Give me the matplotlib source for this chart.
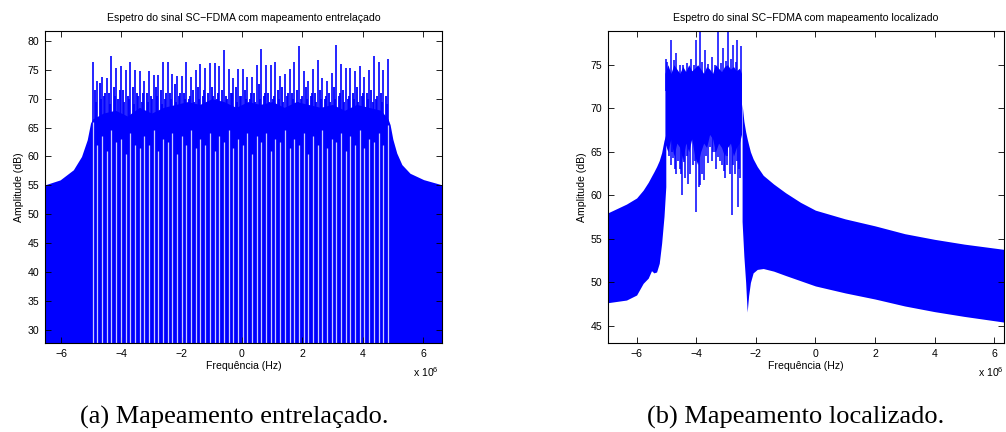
import matplotlib
matplotlib.use('Agg')
import matplotlib.pyplot as plt
import numpy as np

plt.rcParams['font.family'] = ['Liberation Sans', 'DejaVu Sans']
BLUE = '#0000ff'

# ---------------- (a) interleaved mapping (frequency in units of 1e6 Hz) ----------------
sub_f = [-4.948, -4.793, -4.638, -4.482, -4.327, -4.172, -4.016, -3.861,
         -3.706, -3.550, -3.395, -3.240, -3.084, -2.929, -2.774, -2.619,
         -2.463, -2.308, -2.153, -1.997, -1.842, -1.687, -1.531, -1.376,
         -1.221, -1.065, -0.910, -0.755, -0.600, -0.444, -0.289, -0.134,
         0.022, 0.177, 0.332, 0.488, 0.643, 0.798, 0.953, 1.109,
         1.264, 1.419, 1.575, 1.730, 1.885, 2.041, 2.196, 2.351,
         2.507, 2.662, 2.817, 2.972, 3.128, 3.283, 3.438, 3.594,
         3.749, 3.904, 4.060, 4.215, 4.370, 4.526, 4.681, 4.836]
spike_db = [76.3, 73.1, 73.8, 73.5, 77.3, 75.3, 75.7, 74.9,
            76.4, 75.0, 74.7, 73.1, 74.8, 74.1, 74.1, 76.4,
            76.4, 74.3, 73.9, 74.0, 76.4, 73.8, 74.9, 76.0,
            75.3, 76.1, 76.1, 75.6, 78.4, 75.2, 73.5, 75.2,
            75.2, 73.7, 73.7, 75.8, 78.6, 75.8, 75.8, 76.3,
            74.0, 74.3, 75.1, 76.3, 79.1, 74.8, 73.1, 75.2,
            76.6, 73.6, 73.0, 74.4, 79.3, 76.0, 75.3, 75.3,
            74.8, 75.7, 73.7, 74.9, 77.3, 76.4, 75.0, 76.9]
gap_db = [66.0, 62.0, 63.5, 61.0, 64.5, 62.5, 63.0, 60.5,
          64.0, 62.0, 61.5, 63.5, 62.0, 64.5, 61.0, 63.0,
          62.5, 64.0, 60.5, 63.5, 62.0, 64.5, 61.5, 63.0,
          62.0, 64.0, 61.0, 63.5, 62.5, 64.5, 61.5, 63.0,
          62.0, 64.0, 60.5, 63.5, 62.5, 64.0, 61.0, 63.0,
          62.5, 64.5, 61.5, 63.0, 62.0, 64.0, 60.5, 63.5,
          62.0, 64.5, 61.5, 63.0, 62.5, 64.0, 61.0, 63.5,
          62.0, 64.5, 61.5, 63.0, 62.5, 64.0, 62.0, 65.5]
# secondary peaks between neighbouring sub-carriers (first and second lobe)
minor_db = [71.5, 72.7, 70.5, 71.0, 72.0, 70.0, 71.5, 70.5, 72.0,
            71.0, 69.5, 71.0, 70.5, 72.0, 71.5, 70.0, 71.0, 72.5,
            70.5, 71.0, 70.0, 71.5, 72.0, 70.5, 71.0, 72.0, 70.0,
            71.5, 70.5, 71.0, 72.0, 70.5, 71.5, 70.0, 71.0, 72.5,
            70.5, 71.0, 70.0, 71.5, 72.0, 70.5, 71.0, 71.5, 70.0,
            72.0, 70.5, 71.0, 71.5, 70.0, 71.0, 72.0, 70.5, 71.5,
            70.0, 71.0, 72.0, 70.5, 71.0, 71.5, 70.0, 71.0, 70.5]
minor2_db = [69.5, 70.0, 71.0, 69.0, 70.5, 71.5, 69.5, 70.0, 69.0,
             70.5, 71.0, 69.5, 70.0, 70.5, 69.0, 71.0, 70.0, 69.5,
             71.0, 70.0, 70.5, 69.5, 70.0, 71.5, 69.5, 70.5, 71.0,
             69.5, 70.0, 71.0, 69.5, 70.5, 70.0, 71.0, 69.5, 70.0,
             71.0, 69.5, 70.5, 70.0, 69.5, 71.0, 70.0, 69.5, 70.5,
             70.0, 71.0, 69.5, 70.0, 70.5, 69.5, 70.0, 71.0, 69.5,
             70.5, 70.0, 69.5, 71.0, 70.0, 69.5, 70.5, 69.5, 69.0]
env_a_f = [-6.53, -6.03, -5.59, -5.32, -5.13, -5.02, -4.95,
           -4.6, -4.2, -3.8, -3.4, -3.0, -2.6, -2.2, -1.8, -1.4, -1.0, -0.6, -0.2,
           0.2, 0.6, 1.0, 1.4, 1.8, 2.2, 2.6, 3.0, 3.4, 3.8, 4.2, 4.6, 4.84,
           4.91, 5.0, 5.13, 5.30, 5.57, 6.02, 6.63]
env_a_db = [55.1, 55.95, 57.7, 60.0, 62.9, 65.8, 66.5,
            67.5, 68.0, 67.0, 68.5, 67.5, 68.5, 69.0, 69.5, 69.0, 70.0, 69.5, 68.5,
            69.5, 69.0, 69.5, 68.5, 69.5, 69.0, 68.5, 69.0, 68.0, 69.0, 68.5, 68.0, 66.5,
            65.5, 63.0, 60.6, 58.6, 57.1, 56.0, 55.1]

# ---------------- (b) localized mapping ----------------
lsk_f = [-6.96, -6.34, -6.0, -5.78, -5.61, -5.50, -5.42, -5.33, -5.24, -5.16, -5.08, -5.02]
lsk_lo = [47.68, 47.98, 48.56, 49.9, 50.5, 51.35, 51.1, 51.2, 52.2, 54.5, 57.6, 61.0]
lsk_hi = [58.0, 59.0, 59.7, 60.6, 61.5, 62.2, 62.7, 63.3, 64.0, 64.9, 66.3, 67.0]
rsk_f = [-2.46, -2.40, -2.34, -2.29, -2.24, -2.18, -2.09, -1.95, -1.75, -1.4, -1.0,
         -0.5, 0.0, 1.0, 2.0, 3.0, 4.0, 5.0, 6.33]
rsk_lo = [57.0, 53.0, 50.0, 46.6, 48.5, 50.0, 51.1, 51.5, 51.6, 51.3, 50.8,
          50.2, 49.6, 48.8, 48.1, 47.3, 46.65, 46.1, 45.45]
rsk_hi = [70.5, 68.5, 67.3, 66.5, 65.8, 65.0, 64.2, 63.3, 62.3, 61.3, 60.3,
          59.2, 58.3, 57.3, 56.5, 55.6, 54.95, 54.4, 53.8]
band_f = [-5.05, -4.95, -4.85, -4.75, -4.65, -4.55, -4.45, -4.35, -4.25, -4.15,
          -4.05, -3.95, -3.85, -3.75, -3.65, -3.55, -3.45, -3.35, -3.25, -3.15,
          -3.05, -2.95, -2.85, -2.75, -2.65, -2.55, -2.48]
band_lo = [66.0, 65.0, 66.5, 64.5, 66.0, 65.5, 64.0, 66.0, 65.0, 66.5,
           64.5, 63.5, 65.0, 66.0, 65.5, 67.0, 66.5, 65.0, 66.0, 65.5,
           64.5, 65.5, 66.0, 64.5, 65.5, 66.0, 67.0]
band_hi = [74.0, 75.0, 74.0, 75.0, 74.5, 74.0, 74.8, 74.2, 75.0, 74.3,
           74.6, 75.0, 74.5, 74.0, 74.8, 74.5, 74.0, 75.0, 74.6, 74.2,
           74.8, 75.0, 74.5, 74.8, 74.3, 74.6, 74.0]
up_f = [-5.03, -4.99, -4.83, -4.75, -4.68, -4.55, -4.44, -4.30, -4.19, -4.07, -3.99, -3.88,
        -3.80, -3.71, -3.60, -3.48, -3.38, -3.26, -3.16, -3.09, -2.99, -2.93, -2.84, -2.78,
        -2.68, -2.62, -2.51]
up_db = [75.6, 75.3, 77.8, 75.5, 76.3, 75.0, 75.0, 75.2, 75.7, 75.0, 77.8, 80.0,
         75.3, 76.7, 75.1, 75.9, 75.0, 80.0, 75.2, 76.9, 75.4, 80.0, 75.6, 77.3,
         75.3, 77.8, 77.1]
dip_f = [-4.94, -4.90, -4.86, -4.82, -4.77, -4.72, -4.68, -4.62, -4.55, -4.50, -4.46,
         -4.40, -4.36, -4.31, -4.26, -4.20, -4.12, -4.05, -3.99, -3.92, -3.86, -3.80,
         -3.74, -3.68, -3.62, -3.55, -3.48, -3.43, -3.38, -3.32, -3.26, -3.20, -3.15,
         -3.08, -3.02, -2.98, -2.95, -2.87, -2.81, -2.76, -2.70, -2.64, -2.59, -2.56, -2.52]
dip_db = [66.5, 64.5, 63.5, 65.0, 64.3, 63.0, 62.5, 64.0, 63.0, 62.5, 60.0,
          63.8, 62.0, 64.5, 61.3, 62.5, 63.5, 64.0, 58.1, 61.0, 61.2, 62.5,
          61.8, 64.5, 63.7, 65.5, 64.0, 65.0, 65.0, 63.0, 64.4, 64.0, 63.5,
          62.8, 62.0, 64.5, 63.5, 62.5, 57.7, 63.5, 62.5, 64.0, 58.7, 63.0, 62.0]

FS = 7.6
fig = plt.figure(figsize=(10.06, 4.32), dpi=100)
W, H = 1006.0, 432.0


def style(ax):
    ax.tick_params(direction='in', top=True, right=True, length=4, width=0.6,
                   labelsize=FS, pad=4, colors='black')
    for s in ax.spines.values():
        s.set_linewidth(0.8)


# ---- left
ax1 = fig.add_axes([45 / W, 1 - 343 / H, 397 / W, 312 / H])
ax1.fill_between(env_a_f, 0, env_a_db, color=BLUE, lw=0)
mids = [(a + b) / 2 for a, b in zip(sub_f[:-1], sub_f[1:])]
thirds = [a + (b - a) * 0.72 for a, b in zip(sub_f[:-1], sub_f[1:])]
ax1.vlines(mids, 60, minor_db, color=BLUE, lw=1.3)
ax1.vlines(thirds, 60, minor2_db, color=BLUE, lw=1.3)
ax1.vlines(sub_f, 0, gap_db, color='white', lw=0.9, alpha=0.8)
ax1.vlines(sub_f, gap_db, spike_db, color=BLUE, lw=1.2)
ax1.set_xlim(-6.53, 6.63)
ax1.set_ylim(27.75, 81.7)
ax1.set_xticks([-6, -4, -2, 0, 2, 4, 6])
ax1.set_yticks([30, 35, 40, 45, 50, 55, 60, 65, 70, 75, 80])
style(ax1)
ax1.set_title('Espetro do sinal SC\u2212FDMA com mapeamento entrelaçado', fontsize=FS, pad=7)
ax1.set_xlabel('Frequência (Hz)', fontsize=FS, labelpad=2)
ax1.set_ylabel('Amplitude (dB)', fontsize=FS, labelpad=3)

# ---- right
ax2 = fig.add_axes([608 / W, 1 - 343 / H, 396 / W, 312 / H])
ax2.fill_between(lsk_f, lsk_lo, lsk_hi, color=BLUE, lw=0)
ax2.fill_between(rsk_f, rsk_lo, rsk_hi, color=BLUE, lw=0)
ax2.fill_between(band_f, band_lo, band_hi, color=BLUE, lw=0)
ax2.vlines(up_f, 72, up_db, color=BLUE, lw=1.1)
ax2.vlines(dip_f, dip_db, 68, color=BLUE, lw=1.1)
ax2.set_xlim(-6.96, 6.33)
ax2.set_ylim(43.05, 78.87)
ax2.set_xticks([-6, -4, -2, 0, 2, 4, 6])
ax2.set_yticks([45, 50, 55, 60, 65, 70, 75])
style(ax2)
ax2.set_title('Espetro do sinal SC\u2212FDMA com mapeamento localizado', fontsize=FS, pad=7)
ax2.set_xlabel('Frequência (Hz)', fontsize=FS, labelpad=2)
ax2.set_ylabel('Amplitude (dB)', fontsize=FS, labelpad=3)

# exponent labels
fig.text(439 / W, 1 - 377 / H, 'x 10$^{\\mathregular{6}}$', ha='right', va='baseline', fontsize=FS)
fig.text(1004 / W, 1 - 377 / H, 'x 10$^{\\mathregular{6}}$', ha='right', va='baseline', fontsize=FS)

# captions
fig.text(234 / W, 1 - 417 / H, '(a) Mapeamento entrelaçado.', ha='center', va='center',
         family=['Liberation Serif', 'DejaVu Serif'], fontsize=19)
fig.text(796 / W, 1 - 417 / H, '(b) Mapeamento localizado.', ha='center', va='center',
         family=['Liberation Serif', 'DejaVu Serif'], fontsize=19)

fig.savefig('out.png', dpi=100)
